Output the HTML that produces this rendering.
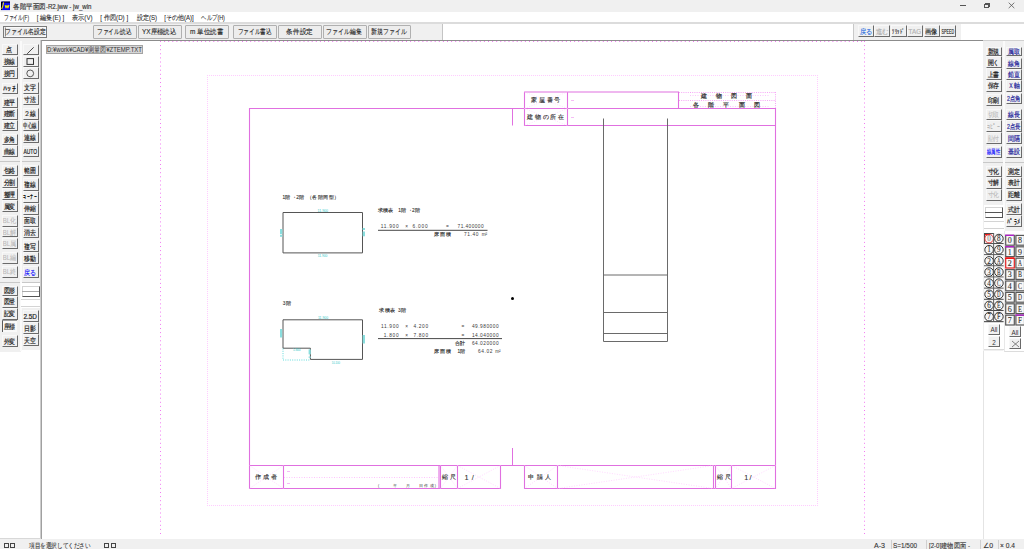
<!DOCTYPE html>
<html><head><meta charset="utf-8">
<style>
*{margin:0;padding:0;box-sizing:border-box}
html,body{width:1024px;height:549px;overflow:hidden;background:#fff;font-family:"Liberation Sans",sans-serif;}
.a{position:absolute;}
.tb{position:absolute;background:#f0f0f0;border-top:1px solid #f8f8f8;border-left:1px solid #f8f8f8;border-right:1px solid #6a6a6a;border-bottom:1px solid #6a6a6a;}
.btn{position:absolute;background:#ededed;border:1px solid #b0b0b0;border-radius:1px;}
svg text{white-space:pre}
</style></head><body>

<div class="a" style="left:0;top:0;width:1024px;height:12px;background:#f0f0f0"></div>
<svg class="a" style="left:0;top:0" width="12" height="12"><rect x="1" y="1.6" width="9" height="8.5" fill="#0a0af0"/><path d="M1.5 10V2.1H10" stroke="#000" stroke-width="1" fill="none"/><path d="M1.5 8.8Q2.6 8 3.6 2.4" stroke="#f0e800" stroke-width="1.1" fill="none"/><path d="M5.2 5.3L6 7.8L7 5.6L7.9 7.8L9 5.1" stroke="#f0e800" stroke-width="1.2" fill="none" stroke-linejoin="round"/></svg>
<div class="a" style="left:960px;top:5px;width:5.5px;height:1px;background:#555"></div>
<div class="a" style="left:984px;top:4px;width:4.5px;height:4px;border:1px solid #555"></div>
<div class="a" style="left:985.3px;top:3px;width:4.5px;height:4px;border-top:1px solid #555;border-right:1px solid #555"></div>
<svg class="a" style="left:1008px;top:2px" width="7" height="7"><path d="M0.7 0.7L6.3 6.1M6.3 0.7L0.7 6.1" stroke="#555" stroke-width="0.8"/></svg>
<div class="a" style="left:0;top:12px;width:1024px;height:10.5px;background:#fff"></div>
<div class="a" style="left:0;top:22px;width:1024px;height:18px;background:#fff;border-top:2px solid #dcdcdc"></div>
<div class="a" style="left:0;top:24px;width:443px;height:17px;background:#f0f0f0;border-right:1px solid #c4c4c4"></div>
<div class="a" style="left:853px;top:24px;width:107.5px;height:16px;background:#f0f0f0;border-left:1px solid #c8c8c8"></div>
<div class="a" style="left:3px;top:25.5px;width:44px;height:12.8px;border:1.3px solid #7a7a7a;background:#ececec"><div class="a" style="left:0.5px;top:0.5px;right:0.5px;bottom:0.5px;border:1px solid #fafafa;border-left-color:#8a8a8a"></div></div>
<div class="btn" style="left:93px;top:25px;width:44px;height:13.5px"></div>
<div class="btn" style="left:137.7px;top:25px;width:44px;height:13.5px"></div>
<div class="btn" style="left:185px;top:25px;width:44px;height:13.5px"></div>
<div class="btn" style="left:233.3px;top:25px;width:43.5px;height:13.5px"></div>
<div class="btn" style="left:278.2px;top:25px;width:43.5px;height:13.5px"></div>
<div class="btn" style="left:323px;top:25px;width:43.5px;height:13.5px"></div>
<div class="btn" style="left:367.9px;top:25px;width:43.5px;height:13.5px"></div>
<div class="tb" style="left:858px;top:25px;width:16px;height:12px"></div>
<div class="tb" style="left:874px;top:25px;width:16px;height:12px"></div>
<div class="tb" style="left:890.5px;top:25px;width:16px;height:12px"></div>
<div class="tb" style="left:907px;top:25px;width:16px;height:12px"></div>
<div class="tb" style="left:923.5px;top:25px;width:16px;height:12px"></div>
<div class="tb" style="left:940px;top:25px;width:16px;height:12px"></div>
<div class="a" style="left:0;top:40.5px;width:41px;height:498.5px;background:#fff"></div>
<div class="a" style="left:0;top:40.5px;width:20.5px;height:311px;background:#f0f0f0"></div>
<div class="a" style="left:20.5px;top:40.5px;width:20.5px;height:309px;background:#f0f0f0"></div>
<div class="a" style="left:983px;top:40.5px;width:41px;height:498.5px;background:#fff;border-left:1px solid #e4e4e4"></div>
<div class="a" style="left:983px;top:40.5px;width:41px;height:310px;background:#f0f0f0"></div>
<div class="tb" style="left:2px;top:44.4px;width:15.5px;height:11.100000000000001px"></div>
<div class="tb" style="left:2px;top:55.5px;width:15.5px;height:11.799999999999997px"></div>
<div class="tb" style="left:2px;top:67.3px;width:15.5px;height:12.0px"></div>
<div class="tb" style="left:2px;top:82.5px;width:15.5px;height:11.099999999999994px"></div>
<div class="tb" style="left:2px;top:96.9px;width:15.5px;height:10.699999999999989px"></div>
<div class="tb" style="left:2px;top:107.6px;width:15.5px;height:12.100000000000009px"></div>
<div class="tb" style="left:2px;top:119.7px;width:15.5px;height:11.299999999999997px"></div>
<div class="tb" style="left:2px;top:134.4px;width:15.5px;height:10.799999999999983px"></div>
<div class="tb" style="left:2px;top:145.2px;width:15.5px;height:11.800000000000011px"></div>
<div class="tb" style="left:2px;top:165.3px;width:15.5px;height:11.199999999999989px"></div>
<div class="tb" style="left:2px;top:176.5px;width:15.5px;height:11.5px"></div>
<div class="tb" style="left:2px;top:188px;width:15.5px;height:12px"></div>
<div class="tb" style="left:2px;top:200px;width:15.5px;height:12px"></div>
<div class="tb" style="left:2px;top:215px;width:15.5px;height:11.800000000000011px"></div>
<div class="tb" style="left:2px;top:226.8px;width:15.5px;height:10.699999999999989px"></div>
<div class="tb" style="left:2px;top:237.5px;width:15.5px;height:11.0px"></div>
<div class="tb" style="left:2px;top:252px;width:15.5px;height:11.5px"></div>
<div class="tb" style="left:2px;top:266px;width:15.5px;height:11.5px"></div>
<div class="tb" style="left:2px;top:285.5px;width:15.5px;height:10.5px"></div>
<div class="tb" style="left:2px;top:296px;width:15.5px;height:11.5px"></div>
<div class="tb" style="left:2px;top:307.5px;width:15.5px;height:12.5px"></div>
<div class="a" style="left:1.5px;top:320px;width:15.5px;height:12px;background:#f9f9f9;border-left:1px solid #5a5a5a;border-top:1px solid #a0a0a0"></div>
<div class="tb" style="left:2px;top:335px;width:15.5px;height:12px"></div>
<div class="tb" style="left:22.5px;top:44.4px;width:16px;height:11.100000000000001px"></div>
<div class="tb" style="left:22.5px;top:55.5px;width:16px;height:11.799999999999997px"></div>
<div class="tb" style="left:22.5px;top:67.3px;width:16px;height:12.0px"></div>
<div class="tb" style="left:22.5px;top:82px;width:16px;height:11.599999999999994px"></div>
<div class="tb" style="left:22.5px;top:93.6px;width:16px;height:11.400000000000006px"></div>
<div class="tb" style="left:22.5px;top:108px;width:16px;height:11.700000000000003px"></div>
<div class="tb" style="left:22.5px;top:119.7px;width:16px;height:10.899999999999991px"></div>
<div class="tb" style="left:22.5px;top:131.5px;width:16px;height:11.300000000000011px"></div>
<div class="tb" style="left:22.5px;top:146.4px;width:16px;height:10.699999999999989px"></div>
<div class="tb" style="left:22.5px;top:164.8px;width:16px;height:11.699999999999989px"></div>
<div class="tb" style="left:22.5px;top:178px;width:16px;height:12.5px"></div>
<div class="tb" style="left:22.5px;top:190.5px;width:16px;height:12.5px"></div>
<div class="tb" style="left:22.5px;top:203px;width:16px;height:11.5px"></div>
<div class="tb" style="left:22.5px;top:214.5px;width:16px;height:12.300000000000011px"></div>
<div class="tb" style="left:22.5px;top:226.8px;width:16px;height:11.399999999999977px"></div>
<div class="tb" style="left:22.5px;top:240px;width:16px;height:12px"></div>
<div class="tb" style="left:22.5px;top:252px;width:16px;height:12px"></div>
<div class="tb" style="left:22.5px;top:266px;width:16px;height:12px"></div>
<div class="tb" style="left:22.5px;top:310px;width:16px;height:12px"></div>
<div class="tb" style="left:22.5px;top:322px;width:16px;height:12px"></div>
<div class="tb" style="left:22.5px;top:334px;width:16px;height:12px"></div>
<svg class="a" style="left:0;top:0" width="41" height="80"><path d="M27.2 53.8L33.7 47.3" stroke="#333" stroke-width="0.9"/><rect x="27" y="58.6" width="6.5" height="5.8" stroke="#333" stroke-width="1" fill="none"/><circle cx="30.2" cy="73.4" r="3.4" stroke="#333" stroke-width="0.8" fill="none"/></svg>
<div class="a" style="left:0;top:161px;width:41px;height:1px;background:#c8c8c8"></div>
<div class="a" style="left:0;top:281.5px;width:41px;height:1px;background:#c8c8c8"></div>
<div class="a" style="left:19.5px;top:41px;width:2px;height:310px;background:#fafafa"></div>
<div class="a" style="left:20.5px;top:283px;width:20px;height:25px;background:#fff"></div>
<div class="a" style="left:22px;top:286px;width:18px;height:11px;background:#fff;border-top:1px solid #d4d4d4;border-left:1px solid #d4d4d4;border-right:1px solid #555;border-bottom:1px solid #555"></div>
<div class="a" style="left:22px;top:290.5px;width:17px;height:1.2px;background:#aaa"></div>
<div class="a" style="left:20.5px;top:299px;width:20px;height:1px;background:#d4d4d4"></div>
<div class="a" style="left:20.5px;top:306px;width:20px;height:1px;background:#d4d4d4"></div>
<div class="tb" style="left:986px;top:46.8px;width:15.5px;height:9.200000000000003px"></div>
<div class="tb" style="left:986px;top:56px;width:15.5px;height:12px"></div>
<div class="tb" style="left:986px;top:68px;width:15.5px;height:12px"></div>
<div class="tb" style="left:986px;top:80px;width:15.5px;height:11.5px"></div>
<div class="tb" style="left:986px;top:94px;width:15.5px;height:12px"></div>
<div class="tb" style="left:986px;top:109px;width:15.5px;height:11px"></div>
<div class="tb" style="left:986px;top:120px;width:15.5px;height:12px"></div>
<div class="tb" style="left:986px;top:132px;width:15.5px;height:12px"></div>
<div class="tb" style="left:986px;top:145.5px;width:15.5px;height:12.0px"></div>
<div class="tb" style="left:986px;top:165.5px;width:15.5px;height:11.5px"></div>
<div class="tb" style="left:986px;top:177px;width:15.5px;height:11.5px"></div>
<div class="tb" style="left:986px;top:188.5px;width:15.5px;height:12.0px"></div>
<div class="tb" style="left:1006px;top:46.5px;width:16px;height:9.799999999999997px"></div>
<div class="tb" style="left:1006px;top:57.5px;width:16px;height:11.0px"></div>
<div class="tb" style="left:1006px;top:68.5px;width:16px;height:11.5px"></div>
<div class="tb" style="left:1006px;top:80px;width:16px;height:11.5px"></div>
<div class="tb" style="left:1006px;top:92.5px;width:16px;height:11.5px"></div>
<div class="tb" style="left:1006px;top:109px;width:16px;height:11px"></div>
<div class="tb" style="left:1006px;top:120px;width:16px;height:12px"></div>
<div class="tb" style="left:1006px;top:132px;width:16px;height:12px"></div>
<div class="tb" style="left:1006px;top:145.5px;width:16px;height:12.0px"></div>
<div class="tb" style="left:1006px;top:165.5px;width:16px;height:11.5px"></div>
<div class="tb" style="left:1006px;top:177px;width:16px;height:11.5px"></div>
<div class="tb" style="left:1006px;top:188.5px;width:16px;height:12.0px"></div>
<div class="tb" style="left:1006px;top:203px;width:16px;height:12px"></div>
<div class="tb" style="left:1006px;top:215px;width:16px;height:12px"></div>
<div class="a" style="left:983px;top:161.5px;width:41px;height:1px;background:#c8c8c8"></div>
<div class="a" style="left:1003px;top:41px;width:2px;height:310px;background:#fafafa"></div>
<div class="a" style="left:983.5px;top:204.5px;width:20px;height:25px;background:#fff"></div>
<div class="a" style="left:985px;top:207px;width:18px;height:11px;background:#fff;border-top:1px solid #d4d4d4;border-left:1px solid #d4d4d4;border-right:1px solid #555;border-bottom:1px solid #555"></div>
<div class="a" style="left:985px;top:212px;width:17px;height:1px;background:#555"></div>
<div class="a" style="left:983.5px;top:221px;width:20px;height:1px;background:#d4d4d4"></div>
<div class="a" style="left:983.5px;top:228px;width:20px;height:1px;background:#d4d4d4"></div>
<div class="a" style="left:983.5px;top:229.5px;width:20.5px;height:120px;background:#fff;border-bottom:1px solid #dcdcdc"></div>
<div class="a" style="left:1004px;top:231px;width:20px;height:121px;background:#fff;border-bottom:1px solid #dcdcdc;border-left:1px solid #e8e8e8"></div>
<svg class="a" style="left:0;top:0" width="1024" height="549"><rect x="984.0" y="233.0" width="9.8" height="11.15" fill="#f6f6f6"/><path d="M984.0 243.6H993.8" stroke="#4a4a4a" stroke-width="1.1"/><path d="M984.5 244.0V233.5H993.8" stroke="#4a4a4a" stroke-width="1.1" fill="none"/><rect x="985.0" y="234.0" width="5" height="1.3" fill="#f01010"/><circle cx="989.1" cy="238.6" r="4.3" stroke="#e83030" stroke-width="0.95" fill="none"/><rect x="993.8" y="233.0" width="9.8" height="11.15" fill="#f6f6f6"/><path d="M993.8 243.6H1003.5999999999999" stroke="#4a4a4a" stroke-width="1.1"/><circle cx="998.9" cy="238.6" r="4.3" stroke="#2a2a2a" stroke-width="0.95" fill="none"/><rect x="984.0" y="244.15" width="9.8" height="11.15" fill="#f6f6f6"/><path d="M984.0 254.75H993.8" stroke="#4a4a4a" stroke-width="1.1"/><circle cx="989.1" cy="249.75" r="4.3" stroke="#2a2a2a" stroke-width="0.95" fill="none"/><rect x="993.8" y="244.15" width="9.8" height="11.15" fill="#f6f6f6"/><path d="M993.8 254.75H1003.5999999999999" stroke="#4a4a4a" stroke-width="1.1"/><circle cx="998.9" cy="249.75" r="4.3" stroke="#2a2a2a" stroke-width="0.95" fill="none"/><rect x="984.0" y="255.3" width="9.8" height="11.15" fill="#f6f6f6"/><path d="M984.0 265.90000000000003H993.8" stroke="#4a4a4a" stroke-width="1.1"/><circle cx="989.1" cy="260.9" r="4.3" stroke="#2a2a2a" stroke-width="0.95" fill="none"/><rect x="993.8" y="255.3" width="9.8" height="11.15" fill="#f6f6f6"/><path d="M993.8 265.90000000000003H1003.5999999999999" stroke="#4a4a4a" stroke-width="1.1"/><circle cx="998.9" cy="260.9" r="4.3" stroke="#2a2a2a" stroke-width="0.95" fill="none"/><rect x="984.0" y="266.45" width="9.8" height="11.15" fill="#f6f6f6"/><path d="M984.0 277.05H993.8" stroke="#4a4a4a" stroke-width="1.1"/><circle cx="989.1" cy="272.05" r="4.3" stroke="#2a2a2a" stroke-width="0.95" fill="none"/><rect x="993.8" y="266.45" width="9.8" height="11.15" fill="#f6f6f6"/><path d="M993.8 277.05H1003.5999999999999" stroke="#4a4a4a" stroke-width="1.1"/><circle cx="998.9" cy="272.05" r="4.3" stroke="#2a2a2a" stroke-width="0.95" fill="none"/><rect x="984.0" y="277.6" width="9.8" height="11.15" fill="#f6f6f6"/><path d="M984.0 288.20000000000005H993.8" stroke="#4a4a4a" stroke-width="1.1"/><circle cx="989.1" cy="283.2" r="4.3" stroke="#2a2a2a" stroke-width="0.95" fill="none"/><rect x="993.8" y="277.6" width="9.8" height="11.15" fill="#f6f6f6"/><path d="M993.8 288.20000000000005H1003.5999999999999" stroke="#4a4a4a" stroke-width="1.1"/><circle cx="998.9" cy="283.2" r="4.3" stroke="#2a2a2a" stroke-width="0.95" fill="none"/><rect x="984.0" y="288.75" width="9.8" height="11.15" fill="#f6f6f6"/><path d="M984.0 299.35H993.8" stroke="#4a4a4a" stroke-width="1.1"/><circle cx="989.1" cy="294.35" r="4.3" stroke="#2a2a2a" stroke-width="0.95" fill="none"/><rect x="993.8" y="288.75" width="9.8" height="11.15" fill="#f6f6f6"/><path d="M993.8 299.35H1003.5999999999999" stroke="#4a4a4a" stroke-width="1.1"/><circle cx="998.9" cy="294.35" r="4.3" stroke="#2a2a2a" stroke-width="0.95" fill="none"/><rect x="984.0" y="299.9" width="9.8" height="11.15" fill="#f6f6f6"/><path d="M984.0 310.5H993.8" stroke="#4a4a4a" stroke-width="1.1"/><circle cx="989.1" cy="305.5" r="4.3" stroke="#2a2a2a" stroke-width="0.95" fill="none"/><rect x="993.8" y="299.9" width="9.8" height="11.15" fill="#f6f6f6"/><path d="M993.8 310.5H1003.5999999999999" stroke="#4a4a4a" stroke-width="1.1"/><circle cx="998.9" cy="305.5" r="4.3" stroke="#2a2a2a" stroke-width="0.95" fill="none"/><rect x="984.0" y="311.05" width="9.8" height="11.15" fill="#f6f6f6"/><path d="M984.0 321.65000000000003H993.8" stroke="#4a4a4a" stroke-width="1.1"/><circle cx="989.1" cy="316.65" r="4.3" stroke="#2a2a2a" stroke-width="0.95" fill="none"/><rect x="993.8" y="311.05" width="9.8" height="11.15" fill="#f6f6f6"/><path d="M993.8 321.65000000000003H1003.5999999999999" stroke="#4a4a4a" stroke-width="1.1"/><circle cx="998.9" cy="316.65" r="4.3" stroke="#2a2a2a" stroke-width="0.95" fill="none"/><path d="M993.6 233V322" stroke="#505050" stroke-width="0.9"/><rect x="1005.7" y="235.4" width="8.6" height="9.8" fill="#f8f8f8" stroke="#585858" stroke-width="1.2"/><rect x="1005.1" y="234.60000000000002" width="9" height="1.4" fill="#b020c8"/><rect x="1015.9000000000001" y="235.4" width="8.6" height="9.8" fill="#f8f8f8" stroke="#585858" stroke-width="1.2"/><rect x="1005.7" y="246.8" width="8.6" height="9.8" fill="#f8f8f8" stroke="#585858" stroke-width="1.2"/><rect x="1005.1" y="246.00000000000003" width="9" height="1.4" fill="#b020c8"/><rect x="1015.9000000000001" y="246.8" width="8.6" height="9.8" fill="#f8f8f8" stroke="#585858" stroke-width="1.2"/><rect x="1005.7" y="258.20000000000005" width="8.6" height="9.8" fill="#f8f8f8" stroke="#e02020" stroke-width="1.2"/><rect x="1005.1" y="257.40000000000003" width="9" height="1.4" fill="#f01010"/><rect x="1015.9000000000001" y="258.20000000000005" width="8.6" height="9.8" fill="#f8f8f8" stroke="#585858" stroke-width="1.2"/><rect x="1005.7" y="269.6" width="8.6" height="9.8" fill="#f8f8f8" stroke="#585858" stroke-width="1.2"/><rect x="1015.9000000000001" y="269.6" width="8.6" height="9.8" fill="#f8f8f8" stroke="#585858" stroke-width="1.2"/><rect x="1005.7" y="281.00000000000006" width="8.6" height="9.8" fill="#f8f8f8" stroke="#585858" stroke-width="1.2"/><rect x="1015.9000000000001" y="281.00000000000006" width="8.6" height="9.8" fill="#f8f8f8" stroke="#585858" stroke-width="1.2"/><rect x="1005.7" y="292.40000000000003" width="8.6" height="9.8" fill="#f8f8f8" stroke="#585858" stroke-width="1.2"/><rect x="1015.9000000000001" y="292.40000000000003" width="8.6" height="9.8" fill="#f8f8f8" stroke="#585858" stroke-width="1.2"/><rect x="1005.7" y="303.80000000000007" width="8.6" height="9.8" fill="#f8f8f8" stroke="#585858" stroke-width="1.2"/><rect x="1015.9000000000001" y="303.80000000000007" width="8.6" height="9.8" fill="#f8f8f8" stroke="#585858" stroke-width="1.2"/><rect x="1005.7" y="315.20000000000005" width="8.6" height="9.8" fill="#f8f8f8" stroke="#585858" stroke-width="1.2"/><rect x="1015.9000000000001" y="315.20000000000005" width="8.6" height="9.8" fill="#f8f8f8" stroke="#585858" stroke-width="1.2"/><rect x="1015.3000000000001" y="314.40000000000003" width="9" height="1.4" fill="#b020c8"/></svg>
<div class="tb" style="left:988px;top:324px;width:12px;height:10.5px"></div>
<div class="tb" style="left:988px;top:336px;width:12px;height:11px"></div>
<div class="tb" style="left:1009px;top:326px;width:12px;height:11px"></div>
<div class="tb" style="left:1009px;top:338px;width:12px;height:11px"></div>
<svg class="a" style="left:1011px;top:340px" width="9" height="8"><path d="M1 1L8 7M8 1L1 7" stroke="#555" stroke-width="0.7"/></svg>
<div class="a" style="left:41px;top:40px;width:942px;height:499px;border-left:1px solid #a0a0a0;border-top:1px solid #8c8c8c;background:#fff"></div>
<div class="a" style="left:40px;top:40px;width:1px;height:499px;background:#cdcdcd"></div>
<div class="a" style="left:983px;top:40px;width:41px;height:1px;background:#d0d0d0"></div>
<svg class="a" style="left:0;top:0" width="1024" height="549"><path d="M160.5 41V536M864.5 41V536" stroke="#f27af2" stroke-width="1" stroke-dasharray="1 3.1" fill="none"/><path d="M160 41.5H865" stroke="#f27af2" stroke-width="1" stroke-dasharray="1 3.1" fill="none"/><path d="M207.5 75V506M817.5 75V506M207 75.5H818M207 505.5H818" stroke="#ffccff" stroke-width="1" stroke-dasharray="1 1" fill="none"/><path d="M249.5 108.5H775.5V465.5H249.5Z" stroke="#e070e0" stroke-width="1.1" fill="none"/><path d="M524.5 108.5V92H678.5V108.5M567.5 92V125.5M524.5 108.5V125.5H775.5" stroke="#e070e0" stroke-width="1.1" fill="none"/><path d="M679 92.5H776M679 100.5H776" stroke="#f6a6f6" stroke-width="1" stroke-dasharray="1 1.2" fill="none"/><path d="M690 95.5H770M690 106.5H770" stroke="#fac8fa" stroke-width="1" stroke-dasharray="1 1.5" fill="none"/><path d="M775.5 92V108" stroke="#f6a6f6" stroke-width="1" stroke-dasharray="1 1.2" fill="none"/><path d="M512.5 108.5V125.5M512.5 448V465.5" stroke="#e070e0" stroke-width="1" fill="none"/><path d="M249.5 465.5V488.5H500.5V465.5M283.5 465.5V488.5M439 465.5V488.5M440.5 465.5V488.5M457.5 465.5V488.5" stroke="#e070e0" stroke-width="1.1" fill="none"/><path d="M524.5 465.5V488.5H775.5V465.5M557.5 465.5V488.5M713.5 465.5V488.5M715.5 465.5V488.5M731.5 465.5V488.5" stroke="#e070e0" stroke-width="1.1" fill="none"/><path d="M524.5 92L567.5 108.5M567.5 92L524.5 108.5" stroke="#ffd0ff" stroke-width="0.7" stroke-dasharray="1 1.5" fill="none"/><path d="M524.5 108.5L567.5 125.5M567.5 108.5L524.5 125.5" stroke="#ffd0ff" stroke-width="0.7" stroke-dasharray="1 1.5" fill="none"/><path d="M249.5 465.5L283.5 488.5M283.5 465.5L249.5 488.5" stroke="#ffc8ff" stroke-width="0.7" stroke-dasharray="1 1.5" fill="none"/><path d="M440.5 465.5L457.5 488.5M457.5 465.5L440.5 488.5" stroke="#ffc8ff" stroke-width="0.7" stroke-dasharray="1 1.5" fill="none"/><path d="M457.5 465.5L500.5 488.5M500.5 465.5L457.5 488.5" stroke="#ffc8ff" stroke-width="0.7" stroke-dasharray="1 1.5" fill="none"/><path d="M524.5 465.5L557.5 488.5M557.5 465.5L524.5 488.5" stroke="#ffc8ff" stroke-width="0.7" stroke-dasharray="1 1.5" fill="none"/><path d="M557.5 465.5L713.5 488.5M713.5 465.5L557.5 488.5" stroke="#ffc8ff" stroke-width="0.7" stroke-dasharray="1 1.5" fill="none"/><path d="M715.5 465.5L731.5 488.5M731.5 465.5L715.5 488.5" stroke="#ffc8ff" stroke-width="0.7" stroke-dasharray="1 1.5" fill="none"/><path d="M731.5 465.5L775.5 488.5M775.5 465.5L731.5 488.5" stroke="#ffc8ff" stroke-width="0.7" stroke-dasharray="1 1.5" fill="none"/><path d="M284 477.5H439" stroke="#fcc4fc" stroke-width="1" stroke-dasharray="1 1.5" fill="none"/><path d="M571 100.5H574M571 117.5H574M287 471.5H290M287 483.5H290" stroke="#f4b4f4" stroke-width="0.9" fill="none"/><path d="M603.5 118.5V341.5M667.5 118.5V341.5M603.5 275H667.5M603.5 312.5H667.5M603.5 333.5H667.5M603.5 341.5H667.5" stroke="#6a6a6a" stroke-width="1" fill="none"/><path d="M283 212.5H362.5V252.9H283Z" stroke="#555" stroke-width="1" fill="none"/><path d="M283 319.8H362.5V359.4H310.4V348.2H283Z" stroke="#555" stroke-width="1" fill="none"/><path d="M283 348.5V360H310" stroke="#50d8d8" stroke-width="0.9" stroke-dasharray="1 1.3" fill="none"/><path d="M378 230.3H487.5M378 338.6H502" stroke="#333" stroke-width="0.9" fill="none"/><circle cx="512.5" cy="298.5" r="1.5" fill="#000"/></svg>
<div class="a" style="left:46px;top:45px;width:97px;height:9px;background:#d6d6d6;border:1px solid #a4a4a4"></div>
<div class="a" style="left:0;top:539px;width:1024px;height:10px;background:#f0f0f0"></div>
<div class="a" style="left:0;top:538px;width:41px;height:1px;background:#d8d8d8"></div>
<div class="a" style="left:3.6px;top:543px;width:5.2px;height:5px;border:1px solid #444"></div>
<div class="a" style="left:9.8px;top:543px;width:5.2px;height:5px;border:1px solid #444"></div>
<div class="a" style="left:103.9px;top:543px;width:5.2px;height:5px;border:1px solid #444"></div>
<div class="a" style="left:110.5px;top:543px;width:5.2px;height:5px;border:1px solid #444"></div>
<div class="a" style="left:890.5px;top:540px;width:1px;height:9px;background:#d0d0d0"></div>
<div class="a" style="left:925.5px;top:540px;width:1px;height:9px;background:#d0d0d0"></div>
<div class="a" style="left:979.5px;top:540px;width:1px;height:9px;background:#d0d0d0"></div>
<div class="a" style="left:997.5px;top:540px;width:1px;height:9px;background:#d0d0d0"></div>
<svg class="a" style="left:0;top:0;font-family:'Liberation Sans',sans-serif" width="1024" height="549"><text x="13.40" y="9.00" font-size="6.6" fill="#333" font-weight="normal" textLength="78.10" lengthAdjust="spacingAndGlyphs" stroke="#333" stroke-width="0.15">各階平面図-R2.jww - jw_win</text><text x="3.80" y="19.80" font-size="7" fill="#2a2a2a" font-weight="normal" textLength="25.20" lengthAdjust="spacingAndGlyphs" stroke="#2a2a2a" stroke-width="0.08">ファイル(F)</text><text x="36.80" y="19.80" font-size="7" fill="#2a2a2a" font-weight="normal" textLength="27.40" lengthAdjust="spacingAndGlyphs" stroke="#2a2a2a" stroke-width="0.08">[ 編集(E) ]</text><text x="72.20" y="19.80" font-size="7" fill="#2a2a2a" font-weight="normal" textLength="20.30" lengthAdjust="spacingAndGlyphs" stroke="#2a2a2a" stroke-width="0.08">表示(V)</text><text x="100.30" y="19.80" font-size="7" fill="#2a2a2a" font-weight="normal" textLength="27.80" lengthAdjust="spacingAndGlyphs" stroke="#2a2a2a" stroke-width="0.08">[ 作図(D) ]</text><text x="136.80" y="19.80" font-size="7" fill="#2a2a2a" font-weight="normal" textLength="20.20" lengthAdjust="spacingAndGlyphs" stroke="#2a2a2a" stroke-width="0.08">設定(S)</text><text x="164.20" y="19.80" font-size="7" fill="#2a2a2a" font-weight="normal" textLength="29.50" lengthAdjust="spacingAndGlyphs" stroke="#2a2a2a" stroke-width="0.08">[その他(A)]</text><text x="201.30" y="19.80" font-size="7" fill="#2a2a2a" font-weight="normal" textLength="23.60" lengthAdjust="spacingAndGlyphs" stroke="#2a2a2a" stroke-width="0.08">ヘルプ(H)</text><text x="5.00" y="34.30" font-size="7" fill="#222" font-weight="normal" textLength="41.00" lengthAdjust="spacingAndGlyphs" stroke="#222" stroke-width="0.1">ファイル名設定</text><text x="97.00" y="34.30" font-size="7" fill="#222" font-weight="normal" textLength="34.30" lengthAdjust="spacingAndGlyphs" stroke="#222" stroke-width="0.1">ファイル読込</text><text x="142.00" y="34.30" font-size="7" fill="#222" font-weight="normal" textLength="34.20" lengthAdjust="spacingAndGlyphs" stroke="#222" stroke-width="0.1">YX座標読込</text><text x="190.00" y="34.30" font-size="7" fill="#222" font-weight="normal" textLength="33.00" lengthAdjust="spacingAndGlyphs" stroke="#222" stroke-width="0.1">m 単位読書</text><text x="237.50" y="34.30" font-size="7" fill="#222" font-weight="normal" textLength="34.00" lengthAdjust="spacingAndGlyphs" stroke="#222" stroke-width="0.1">ファイル書込</text><text x="286.40" y="34.30" font-size="7" fill="#222" font-weight="normal" textLength="26.40" lengthAdjust="spacingAndGlyphs" stroke="#222" stroke-width="0.1">条件設定</text><text x="326.40" y="34.30" font-size="7" fill="#222" font-weight="normal" textLength="35.20" lengthAdjust="spacingAndGlyphs" stroke="#222" stroke-width="0.1">ファイル編集</text><text x="371.40" y="34.30" font-size="7" fill="#222" font-weight="normal" textLength="35.10" lengthAdjust="spacingAndGlyphs" stroke="#222" stroke-width="0.1">新規ファイル</text><text x="859.55" y="33.60" font-size="6.5" fill="#3070e0" font-weight="normal" textLength="12.50" lengthAdjust="spacingAndGlyphs" stroke="#3070e0" stroke-width="0.15">戻る</text><text x="875.55" y="33.60" font-size="6.5" fill="#b0b0b0" font-weight="normal" textLength="12.50" lengthAdjust="spacingAndGlyphs" stroke="#b0b0b0" stroke-width="0.15">進む</text><text x="892.05" y="33.60" font-size="6.5" fill="#222" font-weight="normal" textLength="12.50" lengthAdjust="spacingAndGlyphs" stroke="#222" stroke-width="0.15">ｿﾘｯﾄﾞ</text><text x="908.55" y="33.60" font-size="6.5" fill="#b0b0b0" font-weight="normal" textLength="12.50" lengthAdjust="spacingAndGlyphs" stroke="#b0b0b0" stroke-width="0.15">TAG</text><text x="925.05" y="33.60" font-size="6.5" fill="#222" font-weight="normal" textLength="12.50" lengthAdjust="spacingAndGlyphs" stroke="#222" stroke-width="0.15">画像</text><text x="941.55" y="33.60" font-size="6.5" fill="#222" font-weight="normal" textLength="12.50" lengthAdjust="spacingAndGlyphs" stroke="#222" stroke-width="0.15">SPEED</text><text x="6.45" y="52.45" font-size="6.8" fill="#222" font-weight="normal" textLength="6.00" lengthAdjust="spacingAndGlyphs" stroke="#222" stroke-width="0.18">点</text><text x="3.55" y="63.90" font-size="6.8" fill="#222" font-weight="normal" textLength="11.80" lengthAdjust="spacingAndGlyphs" stroke="#222" stroke-width="0.18">接線</text><text x="3.55" y="75.80" font-size="6.8" fill="#222" font-weight="normal" textLength="11.80" lengthAdjust="spacingAndGlyphs" stroke="#222" stroke-width="0.18">接円</text><text x="2.70" y="90.55" font-size="6.8" fill="#222" font-weight="normal" textLength="13.50" lengthAdjust="spacingAndGlyphs" stroke="#222" stroke-width="0.18">ﾊｯﾁ</text><text x="3.55" y="104.75" font-size="6.8" fill="#222" font-weight="normal" textLength="11.80" lengthAdjust="spacingAndGlyphs" stroke="#222" stroke-width="0.18">建平</text><text x="3.55" y="116.15" font-size="6.8" fill="#222" font-weight="normal" textLength="11.80" lengthAdjust="spacingAndGlyphs" stroke="#222" stroke-width="0.18">建断</text><text x="3.55" y="127.85" font-size="6.8" fill="#222" font-weight="normal" textLength="11.80" lengthAdjust="spacingAndGlyphs" stroke="#222" stroke-width="0.18">建立</text><text x="3.55" y="142.30" font-size="6.8" fill="#222" font-weight="normal" textLength="11.80" lengthAdjust="spacingAndGlyphs" stroke="#222" stroke-width="0.18">多角</text><text x="3.55" y="153.60" font-size="6.8" fill="#222" font-weight="normal" textLength="11.80" lengthAdjust="spacingAndGlyphs" stroke="#222" stroke-width="0.18">曲線</text><text x="3.55" y="173.40" font-size="6.8" fill="#222" font-weight="normal" textLength="11.80" lengthAdjust="spacingAndGlyphs" stroke="#222" stroke-width="0.18">包絡</text><text x="3.55" y="184.75" font-size="6.8" fill="#222" font-weight="normal" textLength="11.80" lengthAdjust="spacingAndGlyphs" stroke="#222" stroke-width="0.18">分割</text><text x="3.55" y="196.50" font-size="6.8" fill="#222" font-weight="normal" textLength="11.80" lengthAdjust="spacingAndGlyphs" stroke="#222" stroke-width="0.18">整理</text><text x="3.55" y="208.50" font-size="6.8" fill="#222" font-weight="normal" textLength="11.80" lengthAdjust="spacingAndGlyphs" stroke="#222" stroke-width="0.18">属変</text><text x="2.70" y="223.40" font-size="6.8" fill="#b8b8b8" font-weight="normal" textLength="13.50" lengthAdjust="spacingAndGlyphs" stroke="#b8b8b8" stroke-width="0.05">BL化</text><text x="2.70" y="234.65" font-size="6.8" fill="#b8b8b8" font-weight="normal" textLength="13.50" lengthAdjust="spacingAndGlyphs" stroke="#b8b8b8" stroke-width="0.05">BL解</text><text x="2.70" y="245.50" font-size="6.8" fill="#b8b8b8" font-weight="normal" textLength="13.50" lengthAdjust="spacingAndGlyphs" stroke="#b8b8b8" stroke-width="0.05">BL属</text><text x="2.70" y="260.25" font-size="6.8" fill="#b8b8b8" font-weight="normal" textLength="13.50" lengthAdjust="spacingAndGlyphs" stroke="#b8b8b8" stroke-width="0.05">BL編</text><text x="2.70" y="274.25" font-size="6.8" fill="#b8b8b8" font-weight="normal" textLength="13.50" lengthAdjust="spacingAndGlyphs" stroke="#b8b8b8" stroke-width="0.05">BL終</text><text x="3.55" y="293.25" font-size="6.8" fill="#222" font-weight="normal" textLength="11.80" lengthAdjust="spacingAndGlyphs" stroke="#222" stroke-width="0.18">図形</text><text x="3.55" y="304.25" font-size="6.8" fill="#222" font-weight="normal" textLength="11.80" lengthAdjust="spacingAndGlyphs" stroke="#222" stroke-width="0.18">図登</text><text x="3.55" y="316.25" font-size="6.8" fill="#222" font-weight="normal" textLength="11.80" lengthAdjust="spacingAndGlyphs" stroke="#222" stroke-width="0.18">記変</text><text x="3.55" y="328.50" font-size="6.8" fill="#222" font-weight="normal" textLength="11.80" lengthAdjust="spacingAndGlyphs" stroke="#222" stroke-width="0.18">座標</text><text x="3.55" y="343.50" font-size="6.8" fill="#222" font-weight="normal" textLength="11.80" lengthAdjust="spacingAndGlyphs" stroke="#222" stroke-width="0.18">外変</text><text x="24.30" y="90.30" font-size="6.8" fill="#222" font-weight="normal" textLength="11.80" lengthAdjust="spacingAndGlyphs" stroke="#222" stroke-width="0.18">文字</text><text x="24.30" y="101.80" font-size="6.8" fill="#222" font-weight="normal" textLength="11.80" lengthAdjust="spacingAndGlyphs" stroke="#222" stroke-width="0.18">寸法</text><text x="24.30" y="116.35" font-size="6.8" fill="#222" font-weight="normal" textLength="11.80" lengthAdjust="spacingAndGlyphs" stroke="#222" stroke-width="0.18">２線</text><text x="23.45" y="127.65" font-size="6.8" fill="#222" font-weight="normal" textLength="13.50" lengthAdjust="spacingAndGlyphs" stroke="#222" stroke-width="0.18">中心線</text><text x="24.30" y="139.65" font-size="6.8" fill="#222" font-weight="normal" textLength="11.80" lengthAdjust="spacingAndGlyphs" stroke="#222" stroke-width="0.18">連線</text><text x="23.45" y="154.25" font-size="6.8" fill="#222" font-weight="normal" textLength="13.50" lengthAdjust="spacingAndGlyphs" stroke="#222" stroke-width="0.18">AUTO</text><text x="24.30" y="173.15" font-size="6.8" fill="#222" font-weight="normal" textLength="11.80" lengthAdjust="spacingAndGlyphs" stroke="#222" stroke-width="0.18">範囲</text><text x="24.30" y="186.75" font-size="6.8" fill="#222" font-weight="normal" textLength="11.80" lengthAdjust="spacingAndGlyphs" stroke="#222" stroke-width="0.18">複線</text><text x="23.45" y="199.25" font-size="6.8" fill="#222" font-weight="normal" textLength="13.50" lengthAdjust="spacingAndGlyphs" stroke="#222" stroke-width="0.18">ｺｰﾅｰ</text><text x="24.30" y="211.25" font-size="6.8" fill="#222" font-weight="normal" textLength="11.80" lengthAdjust="spacingAndGlyphs" stroke="#222" stroke-width="0.18">伸縮</text><text x="24.30" y="223.15" font-size="6.8" fill="#222" font-weight="normal" textLength="11.80" lengthAdjust="spacingAndGlyphs" stroke="#222" stroke-width="0.18">面取</text><text x="24.30" y="235.00" font-size="6.8" fill="#222" font-weight="normal" textLength="11.80" lengthAdjust="spacingAndGlyphs" stroke="#222" stroke-width="0.18">消去</text><text x="24.30" y="248.50" font-size="6.8" fill="#222" font-weight="normal" textLength="11.80" lengthAdjust="spacingAndGlyphs" stroke="#222" stroke-width="0.18">複写</text><text x="24.30" y="260.50" font-size="6.8" fill="#222" font-weight="normal" textLength="11.80" lengthAdjust="spacingAndGlyphs" stroke="#222" stroke-width="0.18">移動</text><text x="24.30" y="274.50" font-size="6.8" fill="#2020ff" font-weight="normal" textLength="11.80" lengthAdjust="spacingAndGlyphs" stroke="#2020ff" stroke-width="0.18">戻る</text><text x="23.45" y="318.50" font-size="6.8" fill="#222" font-weight="normal" textLength="13.50" lengthAdjust="spacingAndGlyphs" stroke="#222" stroke-width="0.18">2.5D</text><text x="24.30" y="330.50" font-size="6.8" fill="#222" font-weight="normal" textLength="11.80" lengthAdjust="spacingAndGlyphs" stroke="#222" stroke-width="0.18">日影</text><text x="24.30" y="342.50" font-size="6.8" fill="#222" font-weight="normal" textLength="11.80" lengthAdjust="spacingAndGlyphs" stroke="#222" stroke-width="0.18">天空</text><text x="987.55" y="53.90" font-size="6.8" fill="#222" font-weight="normal" textLength="11.80" lengthAdjust="spacingAndGlyphs" stroke="#222" stroke-width="0.18">新規</text><text x="987.55" y="64.50" font-size="6.8" fill="#222" font-weight="normal" textLength="11.80" lengthAdjust="spacingAndGlyphs" stroke="#222" stroke-width="0.18">開く</text><text x="987.55" y="76.50" font-size="6.8" fill="#222" font-weight="normal" textLength="11.80" lengthAdjust="spacingAndGlyphs" stroke="#222" stroke-width="0.18">上書</text><text x="987.55" y="88.25" font-size="6.8" fill="#222" font-weight="normal" textLength="11.80" lengthAdjust="spacingAndGlyphs" stroke="#222" stroke-width="0.18">保存</text><text x="987.55" y="102.50" font-size="6.8" fill="#222" font-weight="normal" textLength="11.80" lengthAdjust="spacingAndGlyphs" stroke="#222" stroke-width="0.18">印刷</text><text x="987.55" y="117.00" font-size="6.8" fill="#b8b8b8" font-weight="normal" textLength="11.80" lengthAdjust="spacingAndGlyphs" stroke="#b8b8b8" stroke-width="0.05">切取</text><text x="986.70" y="128.50" font-size="6.8" fill="#b8b8b8" font-weight="normal" textLength="13.50" lengthAdjust="spacingAndGlyphs" stroke="#b8b8b8" stroke-width="0.05">ｺﾋﾟｰ</text><text x="987.55" y="140.50" font-size="6.8" fill="#b8b8b8" font-weight="normal" textLength="11.80" lengthAdjust="spacingAndGlyphs" stroke="#b8b8b8" stroke-width="0.05">貼付</text><text x="986.95" y="154.00" font-size="6.8" fill="#2020ff" font-weight="normal" textLength="13.00" lengthAdjust="spacingAndGlyphs" stroke="#2020ff" stroke-width="0.18">線属性</text><text x="987.55" y="173.75" font-size="6.8" fill="#222" font-weight="normal" textLength="11.80" lengthAdjust="spacingAndGlyphs" stroke="#222" stroke-width="0.18">寸化</text><text x="987.55" y="185.25" font-size="6.8" fill="#222" font-weight="normal" textLength="11.80" lengthAdjust="spacingAndGlyphs" stroke="#222" stroke-width="0.18">寸解</text><text x="987.55" y="197.00" font-size="6.8" fill="#b8b8b8" font-weight="normal" textLength="11.80" lengthAdjust="spacingAndGlyphs" stroke="#b8b8b8" stroke-width="0.05">寸化</text><text x="1007.80" y="53.90" font-size="6.8" fill="#24249a" font-weight="normal" textLength="11.80" lengthAdjust="spacingAndGlyphs" stroke="#24249a" stroke-width="0.18">属取</text><text x="1007.80" y="65.50" font-size="6.8" fill="#24249a" font-weight="normal" textLength="11.80" lengthAdjust="spacingAndGlyphs" stroke="#24249a" stroke-width="0.18">線角</text><text x="1007.80" y="76.75" font-size="6.8" fill="#24249a" font-weight="normal" textLength="11.80" lengthAdjust="spacingAndGlyphs" stroke="#24249a" stroke-width="0.18">鉛直</text><text x="1007.80" y="88.25" font-size="6.8" fill="#24249a" font-weight="normal" textLength="11.80" lengthAdjust="spacingAndGlyphs" stroke="#24249a" stroke-width="0.18">Ｘ軸</text><text x="1006.95" y="100.75" font-size="6.8" fill="#24249a" font-weight="normal" textLength="13.50" lengthAdjust="spacingAndGlyphs" stroke="#24249a" stroke-width="0.18">2点角</text><text x="1007.80" y="117.00" font-size="6.8" fill="#24249a" font-weight="normal" textLength="11.80" lengthAdjust="spacingAndGlyphs" stroke="#24249a" stroke-width="0.18">線長</text><text x="1006.95" y="128.50" font-size="6.8" fill="#24249a" font-weight="normal" textLength="13.50" lengthAdjust="spacingAndGlyphs" stroke="#24249a" stroke-width="0.18">2点長</text><text x="1007.80" y="140.50" font-size="6.8" fill="#24249a" font-weight="normal" textLength="11.80" lengthAdjust="spacingAndGlyphs" stroke="#24249a" stroke-width="0.18">間隔</text><text x="1007.80" y="154.00" font-size="6.8" fill="#24249a" font-weight="normal" textLength="11.80" lengthAdjust="spacingAndGlyphs" stroke="#24249a" stroke-width="0.18">基設</text><text x="1007.80" y="173.75" font-size="6.8" fill="#222" font-weight="normal" textLength="11.80" lengthAdjust="spacingAndGlyphs" stroke="#222" stroke-width="0.18">測定</text><text x="1007.80" y="185.25" font-size="6.8" fill="#222" font-weight="normal" textLength="11.80" lengthAdjust="spacingAndGlyphs" stroke="#222" stroke-width="0.18">表計</text><text x="1007.80" y="197.00" font-size="6.8" fill="#222" font-weight="normal" textLength="11.80" lengthAdjust="spacingAndGlyphs" stroke="#222" stroke-width="0.18">距離</text><text x="1007.80" y="211.50" font-size="6.8" fill="#222" font-weight="normal" textLength="11.80" lengthAdjust="spacingAndGlyphs" stroke="#222" stroke-width="0.18">式計</text><text x="1006.95" y="223.50" font-size="6.8" fill="#222" font-weight="normal" textLength="13.50" lengthAdjust="spacingAndGlyphs" stroke="#222" stroke-width="0.18">ﾊﾟﾗﾒ</text><text x="987.30" y="241.20" font-size="7.2" fill="#888" font-weight="normal" textLength="3.60" lengthAdjust="spacingAndGlyphs" font-family="Liberation Serif" stroke="#888" stroke-width="0.1">0</text><text x="997.10" y="241.20" font-size="7.2" fill="#333" font-weight="normal" textLength="3.60" lengthAdjust="spacingAndGlyphs" font-family="Liberation Serif" stroke="#333" stroke-width="0.1">8</text><text x="987.30" y="252.35" font-size="7.2" fill="#333" font-weight="normal" textLength="3.60" lengthAdjust="spacingAndGlyphs" font-family="Liberation Serif" stroke="#333" stroke-width="0.1">1</text><text x="997.10" y="252.35" font-size="7.2" fill="#333" font-weight="normal" textLength="3.60" lengthAdjust="spacingAndGlyphs" font-family="Liberation Serif" stroke="#333" stroke-width="0.1">9</text><text x="987.30" y="263.50" font-size="7.2" fill="#333" font-weight="normal" textLength="3.60" lengthAdjust="spacingAndGlyphs" font-family="Liberation Serif" stroke="#333" stroke-width="0.1">2</text><text x="997.10" y="263.50" font-size="7.2" fill="#333" font-weight="normal" textLength="3.60" lengthAdjust="spacingAndGlyphs" font-family="Liberation Serif" stroke="#333" stroke-width="0.1">A</text><text x="987.30" y="274.65" font-size="7.2" fill="#333" font-weight="normal" textLength="3.60" lengthAdjust="spacingAndGlyphs" font-family="Liberation Serif" stroke="#333" stroke-width="0.1">3</text><text x="997.10" y="274.65" font-size="7.2" fill="#333" font-weight="normal" textLength="3.60" lengthAdjust="spacingAndGlyphs" font-family="Liberation Serif" stroke="#333" stroke-width="0.1">B</text><text x="987.30" y="285.80" font-size="7.2" fill="#333" font-weight="normal" textLength="3.60" lengthAdjust="spacingAndGlyphs" font-family="Liberation Serif" stroke="#333" stroke-width="0.1">4</text><text x="997.10" y="285.80" font-size="7.2" fill="#333" font-weight="normal" textLength="3.60" lengthAdjust="spacingAndGlyphs" font-family="Liberation Serif" stroke="#333" stroke-width="0.1">C</text><text x="987.30" y="296.95" font-size="7.2" fill="#333" font-weight="normal" textLength="3.60" lengthAdjust="spacingAndGlyphs" font-family="Liberation Serif" stroke="#333" stroke-width="0.1">5</text><text x="997.10" y="296.95" font-size="7.2" fill="#333" font-weight="normal" textLength="3.60" lengthAdjust="spacingAndGlyphs" font-family="Liberation Serif" stroke="#333" stroke-width="0.1">D</text><text x="987.30" y="308.10" font-size="7.2" fill="#333" font-weight="normal" textLength="3.60" lengthAdjust="spacingAndGlyphs" font-family="Liberation Serif" stroke="#333" stroke-width="0.1">6</text><text x="997.10" y="308.10" font-size="7.2" fill="#333" font-weight="normal" textLength="3.60" lengthAdjust="spacingAndGlyphs" font-family="Liberation Serif" stroke="#333" stroke-width="0.1">E</text><text x="987.30" y="319.25" font-size="7.2" fill="#333" font-weight="normal" textLength="3.60" lengthAdjust="spacingAndGlyphs" font-family="Liberation Serif" stroke="#333" stroke-width="0.1">7</text><text x="997.10" y="319.25" font-size="7.2" fill="#333" font-weight="normal" textLength="3.60" lengthAdjust="spacingAndGlyphs" font-family="Liberation Serif" stroke="#333" stroke-width="0.1">F</text><text x="1007.70" y="243.20" font-size="7.4" fill="#333" font-weight="normal" textLength="4.00" lengthAdjust="spacingAndGlyphs" font-family="Liberation Serif" stroke="#333" stroke-width="0.1">0</text><text x="1017.90" y="243.20" font-size="7.4" fill="#333" font-weight="normal" textLength="4.00" lengthAdjust="spacingAndGlyphs" font-family="Liberation Serif" stroke="#333" stroke-width="0.1">8</text><text x="1007.70" y="254.60" font-size="7.4" fill="#333" font-weight="normal" textLength="4.00" lengthAdjust="spacingAndGlyphs" font-family="Liberation Serif" stroke="#333" stroke-width="0.1">1</text><text x="1017.90" y="254.60" font-size="7.4" fill="#333" font-weight="normal" textLength="4.00" lengthAdjust="spacingAndGlyphs" font-family="Liberation Serif" stroke="#333" stroke-width="0.1">9</text><text x="1007.70" y="266.00" font-size="7.4" fill="#333" font-weight="normal" textLength="4.00" lengthAdjust="spacingAndGlyphs" font-family="Liberation Serif" stroke="#333" stroke-width="0.1">2</text><text x="1017.90" y="266.00" font-size="7.4" fill="#333" font-weight="normal" textLength="4.00" lengthAdjust="spacingAndGlyphs" font-family="Liberation Serif" stroke="#333" stroke-width="0.1">A</text><text x="1007.70" y="277.40" font-size="7.4" fill="#333" font-weight="normal" textLength="4.00" lengthAdjust="spacingAndGlyphs" font-family="Liberation Serif" stroke="#333" stroke-width="0.1">3</text><text x="1017.90" y="277.40" font-size="7.4" fill="#333" font-weight="normal" textLength="4.00" lengthAdjust="spacingAndGlyphs" font-family="Liberation Serif" stroke="#333" stroke-width="0.1">B</text><text x="1007.70" y="288.80" font-size="7.4" fill="#333" font-weight="normal" textLength="4.00" lengthAdjust="spacingAndGlyphs" font-family="Liberation Serif" stroke="#333" stroke-width="0.1">4</text><text x="1017.90" y="288.80" font-size="7.4" fill="#333" font-weight="normal" textLength="4.00" lengthAdjust="spacingAndGlyphs" font-family="Liberation Serif" stroke="#333" stroke-width="0.1">C</text><text x="1007.70" y="300.20" font-size="7.4" fill="#333" font-weight="normal" textLength="4.00" lengthAdjust="spacingAndGlyphs" font-family="Liberation Serif" stroke="#333" stroke-width="0.1">5</text><text x="1017.90" y="300.20" font-size="7.4" fill="#333" font-weight="normal" textLength="4.00" lengthAdjust="spacingAndGlyphs" font-family="Liberation Serif" stroke="#333" stroke-width="0.1">D</text><text x="1007.70" y="311.60" font-size="7.4" fill="#333" font-weight="normal" textLength="4.00" lengthAdjust="spacingAndGlyphs" font-family="Liberation Serif" stroke="#333" stroke-width="0.1">6</text><text x="1017.90" y="311.60" font-size="7.4" fill="#333" font-weight="normal" textLength="4.00" lengthAdjust="spacingAndGlyphs" font-family="Liberation Serif" stroke="#333" stroke-width="0.1">E</text><text x="1007.70" y="323.00" font-size="7.4" fill="#333" font-weight="normal" textLength="4.00" lengthAdjust="spacingAndGlyphs" font-family="Liberation Serif" stroke="#333" stroke-width="0.1">7</text><text x="1017.90" y="323.00" font-size="7.4" fill="#333" font-weight="normal" textLength="4.00" lengthAdjust="spacingAndGlyphs" font-family="Liberation Serif" stroke="#333" stroke-width="0.1">F</text><text x="990.50" y="332.25" font-size="7" fill="#333" font-weight="normal" textLength="7.00" lengthAdjust="spacingAndGlyphs" >All</text><text x="992.25" y="344.50" font-size="7" fill="#333" font-weight="normal" textLength="3.50" lengthAdjust="spacingAndGlyphs" >2</text><text x="1011.50" y="334.50" font-size="7" fill="#333" font-weight="normal" textLength="7.00" lengthAdjust="spacingAndGlyphs" >All</text><text x="47.00" y="52.40" font-size="7" fill="#333" font-weight="normal" textLength="95.00" lengthAdjust="spacingAndGlyphs" >D:¥work¥CAD¥測量図¥ZTEMP.TXT</text><text x="531.00" y="102.20" font-size="5.6" fill="#333" stroke="#333" stroke-width="0.15">家</text><text x="538.80" y="102.20" font-size="5.6" fill="#333" stroke="#333" stroke-width="0.15">屋</text><text x="546.60" y="102.20" font-size="5.6" fill="#333" stroke="#333" stroke-width="0.15">番</text><text x="554.40" y="102.20" font-size="5.6" fill="#333" stroke="#333" stroke-width="0.15">号</text><text x="527.40" y="119.20" font-size="5.6" fill="#333" stroke="#333" stroke-width="0.15">建</text><text x="534.95" y="119.20" font-size="5.6" fill="#333" stroke="#333" stroke-width="0.15">物</text><text x="542.50" y="119.20" font-size="5.6" fill="#333" stroke="#333" stroke-width="0.15">の</text><text x="550.05" y="119.20" font-size="5.6" fill="#333" stroke="#333" stroke-width="0.15">所</text><text x="557.60" y="119.20" font-size="5.6" fill="#333" stroke="#333" stroke-width="0.15">在</text><text x="700.50" y="97.90" font-size="6.2" fill="#333" stroke="#333" stroke-width="0.2">建</text><text x="715.77" y="97.90" font-size="6.2" fill="#333" stroke="#333" stroke-width="0.2">物</text><text x="731.03" y="97.90" font-size="6.2" fill="#333" stroke="#333" stroke-width="0.2">図</text><text x="746.30" y="97.90" font-size="6.2" fill="#333" stroke="#333" stroke-width="0.2">面</text><text x="693.20" y="106.60" font-size="6.2" fill="#333" stroke="#333" stroke-width="0.2">各</text><text x="708.30" y="106.60" font-size="6.2" fill="#333" stroke="#333" stroke-width="0.2">階</text><text x="723.40" y="106.60" font-size="6.2" fill="#333" stroke="#333" stroke-width="0.2">平</text><text x="738.50" y="106.60" font-size="6.2" fill="#333" stroke="#333" stroke-width="0.2">面</text><text x="753.60" y="106.60" font-size="6.2" fill="#333" stroke="#333" stroke-width="0.2">図</text><text x="255.00" y="479.30" font-size="5.6" fill="#333" stroke="#333" stroke-width="0.15">作</text><text x="262.85" y="479.30" font-size="5.6" fill="#333" stroke="#333" stroke-width="0.15">成</text><text x="270.70" y="479.30" font-size="5.6" fill="#333" stroke="#333" stroke-width="0.15">者</text><text x="441.80" y="479.30" font-size="5.6" fill="#333" stroke="#333" stroke-width="0.12">縮</text><text x="449.90" y="479.30" font-size="5.6" fill="#333" stroke="#333" stroke-width="0.12">尺</text><text x="464.40" y="480.20" font-size="7.4" fill="#333" font-weight="normal" textLength="9.40" lengthAdjust="spacing" stroke="#333" stroke-width="0.1">1 /</text><text x="528.00" y="479.30" font-size="5.6" fill="#333" stroke="#333" stroke-width="0.15">申</text><text x="536.70" y="479.30" font-size="5.6" fill="#333" stroke="#333" stroke-width="0.15">請</text><text x="545.40" y="479.30" font-size="5.6" fill="#333" stroke="#333" stroke-width="0.15">人</text><text x="716.50" y="479.30" font-size="5.6" fill="#333" stroke="#333" stroke-width="0.12">縮</text><text x="724.90" y="479.30" font-size="5.6" fill="#333" stroke="#333" stroke-width="0.12">尺</text><text x="744.20" y="480.20" font-size="7.2" fill="#333" font-weight="normal" textLength="7.30" lengthAdjust="spacing" stroke="#333" stroke-width="0.1">1/</text><text x="378.00" y="486.50" font-size="3.6" fill="#333" font-weight="normal" textLength="58.00" lengthAdjust="spacing" >(　　 年　 月　 日作成)</text><text x="282.60" y="198.60" font-size="4.8" fill="#333" stroke="#333" stroke-width="0.1">1</text><text x="285.20" y="198.60" font-size="4.8" fill="#333" stroke="#333" stroke-width="0.1">階</text><text x="292.00" y="198.60" font-size="4.8" fill="#333" stroke="#333" stroke-width="0.1">・</text><text x="296.30" y="198.60" font-size="4.8" fill="#333" stroke="#333" stroke-width="0.1">2</text><text x="299.20" y="198.60" font-size="4.8" fill="#333" stroke="#333" stroke-width="0.1">階</text><text x="306.50" y="198.60" font-size="4.8" fill="#333" stroke="#333" stroke-width="0.1">（</text><text x="312.40" y="198.60" font-size="4.8" fill="#333" stroke="#333" stroke-width="0.1">各</text><text x="317.90" y="198.60" font-size="4.8" fill="#333" stroke="#333" stroke-width="0.1">階</text><text x="323.40" y="198.60" font-size="4.8" fill="#333" stroke="#333" stroke-width="0.1">同</text><text x="328.90" y="198.60" font-size="4.8" fill="#333" stroke="#333" stroke-width="0.1">型</text><text x="334.00" y="198.60" font-size="4.8" fill="#333" stroke="#333" stroke-width="0.1">）</text><text x="378.20" y="211.80" font-size="4.7" fill="#333" stroke="#333" stroke-width="0.15">求</text><text x="383.00" y="211.80" font-size="4.7" fill="#333" stroke="#333" stroke-width="0.15">積</text><text x="387.80" y="211.80" font-size="4.7" fill="#333" stroke="#333" stroke-width="0.15">表</text><text x="398.30" y="211.80" font-size="4.8" fill="#333" stroke="#333" stroke-width="0.1">1</text><text x="400.80" y="211.80" font-size="4.8" fill="#333" stroke="#333" stroke-width="0.1">階</text><text x="407.60" y="211.80" font-size="4.8" fill="#333" stroke="#333" stroke-width="0.1">・</text><text x="412.00" y="211.80" font-size="4.8" fill="#333" stroke="#333" stroke-width="0.1">2</text><text x="414.80" y="211.80" font-size="4.8" fill="#333" stroke="#333" stroke-width="0.1">階</text><text x="380.80" y="228.10" font-size="4.8" fill="#3a3a3a" font-weight="normal" textLength="17.80" lengthAdjust="spacing" >11.900</text><text x="405.30" y="228.10" font-size="4.8" fill="#3a3a3a" font-weight="normal" textLength="3.20" lengthAdjust="spacing" >×</text><text x="412.50" y="228.10" font-size="4.8" fill="#3a3a3a" font-weight="normal" textLength="15.20" lengthAdjust="spacing" >6.000</text><text x="445.90" y="228.10" font-size="4.8" fill="#3a3a3a" font-weight="normal" textLength="3.10" lengthAdjust="spacing" >=</text><text x="457.60" y="228.10" font-size="4.8" fill="#3a3a3a" font-weight="normal" textLength="26.00" lengthAdjust="spacing" >71.400000</text><text x="434.10" y="236.20" font-size="4.7" fill="#333" stroke="#333" stroke-width="0.15">床</text><text x="439.85" y="236.20" font-size="4.7" fill="#333" stroke="#333" stroke-width="0.15">面</text><text x="445.60" y="236.20" font-size="4.7" fill="#333" stroke="#333" stroke-width="0.15">積</text><text x="463.90" y="236.20" font-size="4.8" fill="#3a3a3a" font-weight="normal" textLength="14.60" lengthAdjust="spacing" >71.40</text><text x="481.70" y="236.20" font-size="4.8" fill="#3a3a3a" font-weight="normal" textLength="5.30" lengthAdjust="spacing" >m²</text><text x="282.80" y="304.80" font-size="4.8" fill="#333" stroke="#333" stroke-width="0.1">3</text><text x="285.50" y="304.80" font-size="4.8" fill="#333" stroke="#333" stroke-width="0.1">階</text><text x="378.90" y="312.30" font-size="4.7" fill="#333" stroke="#333" stroke-width="0.15">求</text><text x="384.55" y="312.30" font-size="4.7" fill="#333" stroke="#333" stroke-width="0.15">積</text><text x="390.20" y="312.30" font-size="4.7" fill="#333" stroke="#333" stroke-width="0.15">表</text><text x="398.00" y="312.30" font-size="4.8" fill="#333" stroke="#333" stroke-width="0.1">3</text><text x="400.80" y="312.30" font-size="4.8" fill="#333" stroke="#333" stroke-width="0.1">階</text><text x="381.00" y="327.70" font-size="4.8" fill="#3a3a3a" font-weight="normal" textLength="17.70" lengthAdjust="spacing" >11.900</text><text x="405.30" y="327.70" font-size="4.8" fill="#3a3a3a" font-weight="normal" textLength="3.20" lengthAdjust="spacing" >×</text><text x="413.50" y="327.70" font-size="4.8" fill="#3a3a3a" font-weight="normal" textLength="14.60" lengthAdjust="spacing" >4.200</text><text x="461.40" y="327.70" font-size="4.8" fill="#3a3a3a" font-weight="normal" textLength="3.10" lengthAdjust="spacing" >=</text><text x="471.90" y="327.70" font-size="4.8" fill="#3a3a3a" font-weight="normal" textLength="26.70" lengthAdjust="spacing" >49.980000</text><text x="383.70" y="336.60" font-size="4.8" fill="#3a3a3a" font-weight="normal" textLength="15.00" lengthAdjust="spacing" >1.800</text><text x="405.30" y="336.60" font-size="4.8" fill="#3a3a3a" font-weight="normal" textLength="3.20" lengthAdjust="spacing" >×</text><text x="413.50" y="336.60" font-size="4.8" fill="#3a3a3a" font-weight="normal" textLength="14.60" lengthAdjust="spacing" >7.800</text><text x="461.40" y="336.60" font-size="4.8" fill="#3a3a3a" font-weight="normal" textLength="3.10" lengthAdjust="spacing" >=</text><text x="471.90" y="336.60" font-size="4.8" fill="#3a3a3a" font-weight="normal" textLength="26.70" lengthAdjust="spacing" >14.040000</text><text x="454.80" y="344.80" font-size="4.7" fill="#333" stroke="#333" stroke-width="0.15">合</text><text x="460.00" y="344.80" font-size="4.7" fill="#333" stroke="#333" stroke-width="0.15">計</text><text x="471.90" y="344.80" font-size="4.8" fill="#3a3a3a" font-weight="normal" textLength="26.70" lengthAdjust="spacing" >64.020000</text><text x="433.60" y="353.40" font-size="4.7" fill="#333" stroke="#333" stroke-width="0.15">床</text><text x="439.95" y="353.40" font-size="4.7" fill="#333" stroke="#333" stroke-width="0.15">面</text><text x="446.30" y="353.40" font-size="4.7" fill="#333" stroke="#333" stroke-width="0.15">積</text><text x="457.40" y="353.40" font-size="4.8" fill="#333" stroke="#333" stroke-width="0.1">1</text><text x="460.00" y="353.40" font-size="4.8" fill="#333" stroke="#333" stroke-width="0.1">階</text><text x="478.10" y="353.40" font-size="4.8" fill="#3a3a3a" font-weight="normal" textLength="14.30" lengthAdjust="spacing" >64.02</text><text x="495.20" y="353.40" font-size="4.8" fill="#3a3a3a" font-weight="normal" textLength="5.40" lengthAdjust="spacing" >m²</text><text x="317.50" y="211.60" font-size="3.4" fill="#30c8c8" font-weight="normal" textLength="10.50" lengthAdjust="spacingAndGlyphs" >11.900</text><text x="317.70" y="256.50" font-size="3.2" fill="#30c8c8" font-weight="normal" textLength="9.60" lengthAdjust="spacingAndGlyphs" >11.900</text><text x="318.00" y="318.80" font-size="3.4" fill="#30c8c8" font-weight="normal" textLength="10.00" lengthAdjust="spacingAndGlyphs" >11.900</text><text x="331.80" y="363.80" font-size="3.2" fill="#30c8c8" font-weight="normal" textLength="8.20" lengthAdjust="spacingAndGlyphs" >10.100</text><text x="292.90" y="351.20" font-size="2.8" fill="#30c8c8" font-weight="normal" textLength="7.60" lengthAdjust="spacingAndGlyphs" >1.800</text><rect x="280" y="229" width="2.4" height="5.3" fill="#8adede"/><rect x="280" y="235" width="2.4" height="1.8" fill="#8adede"/><rect x="362.6" y="228" width="2.4" height="2" fill="#8adede"/><rect x="362.6" y="231.5" width="2.4" height="4.8" fill="#8adede"/><rect x="280" y="329" width="2.2" height="8.5" fill="#8adede"/><rect x="362.6" y="335" width="2.4" height="8.5" fill="#8adede"/><rect x="308.6" y="349.4" width="2.2" height="5" fill="#8adede"/><rect x="308.6" y="356.5" width="2.2" height="1.3" fill="#8adede"/><text x="29.00" y="548.00" font-size="6.8" fill="#333" font-weight="normal" textLength="61.50" lengthAdjust="spacingAndGlyphs" stroke="#333" stroke-width="0.1">項目を選択してください</text><text x="874.00" y="548.00" font-size="6.8" fill="#333" font-weight="normal" textLength="11.00" lengthAdjust="spacingAndGlyphs" stroke="#333" stroke-width="0.1">A-3</text><text x="893.00" y="548.00" font-size="6.8" fill="#333" font-weight="normal" textLength="24.00" lengthAdjust="spacingAndGlyphs" stroke="#333" stroke-width="0.1">S=1/500</text><text x="929.00" y="548.00" font-size="6.8" fill="#333" font-weight="normal" textLength="41.00" lengthAdjust="spacingAndGlyphs" stroke="#333" stroke-width="0.1">[2-0]建物図面 -</text><text x="983.00" y="548.00" font-size="6.8" fill="#333" font-weight="normal" textLength="10.00" lengthAdjust="spacingAndGlyphs" stroke="#333" stroke-width="0.1">∠0</text><text x="1000.00" y="548.00" font-size="6.8" fill="#333" font-weight="normal" textLength="15.00" lengthAdjust="spacingAndGlyphs" stroke="#333" stroke-width="0.1">× 0.4</text></svg>
</body></html>
